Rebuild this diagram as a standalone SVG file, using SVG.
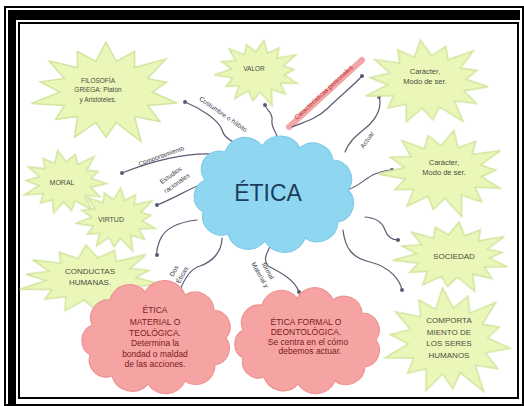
<svg xmlns="http://www.w3.org/2000/svg" width="524" height="406" viewBox="0 0 524 406">
<style>
.star{fill:#eaf7b9;stroke:#d3e6a0;stroke-width:1.6}
.pink{fill:#f6a3a3;stroke:#ec9393;stroke-width:1.2}
.blue{fill:#8fd7f1;stroke:#80cbe8;stroke-width:1.2}
.st{font-family:"Liberation Sans",Arial,sans-serif;fill:#4d4d3d;text-anchor:middle}
.pt{font-family:"Liberation Sans",Arial,sans-serif;fill:#7a2020;text-anchor:middle;font-size:8.5px}
.lbl{font-family:"Liberation Sans",Arial,sans-serif;fill:#3a3a4a;font-size:6.5px;text-anchor:middle}
.con{fill:none;stroke:#5c5a72;stroke-width:1.2;stroke-linecap:round}
.dot{fill:#5c5a72}
</style>
<defs>
<path id="star" vector-effect="non-scaling-stroke" d="M0,-100 L14,-61 L39,-81 L39,-49 L82,-66 L57,-27 L83,-19 L63,0 L97,22 L57,27 L74,59 L39,49 L48,99 L14,61 L0,90 L-14,61 L-43,90 L-39,49 L-69,55 L-57,27 L-102,23 L-63,0 L-90,-20 L-57,-27 L-78,-62 L-39,-49 L-39,-81 L-14,-61 Z"/>
<filter id="soft" x="-10%" y="-10%" width="120%" height="120%"><feGaussianBlur stdDeviation="0.5"/></filter>
</defs>
<rect x="0" y="0" width="524" height="406" fill="#fff"/>
<g id="frame">
<rect x="5" y="7" width="518" height="398" fill="none" stroke="#000" stroke-width="2"/>
<rect x="8" y="10" width="512" height="10" fill="#000"/>
<rect x="8" y="10" width="8" height="396" fill="#000"/>
<rect x="19" y="23" width="499" height="375" fill="none" stroke="#000" stroke-width="2"/>
</g>
<g id="connectors">
<path class="con" d="M247,147 C232,143 224,138 222,130 C219,120 200,108 185,102"/>
<circle class="dot" cx="185" cy="102" r="2"/>
<path class="con" d="M278,150 C282,135 270,130 272,120 C273,112 266,110 265,105"/>
<circle class="dot" cx="265" cy="105" r="2"/>
<line x1="289" y1="127" x2="362" y2="60" stroke="#f2a6a6" stroke-width="6" stroke-linecap="round"/>
<path class="con" d="M292,127 C305,122 318,118 328,108 S355,84 362,76"/>
<circle class="dot" cx="362" cy="76" r="2"/>
<path class="con" d="M345,152 C350,138 362,132 370,124 C378,116 382,105 379,97"/>
<circle class="dot" cx="379" cy="97" r="2"/>
<path class="con" d="M347,190 C360,186 365,178 375,174 S388,170 392,170" stroke="#6a5488"/>
<circle class="dot" cx="392" cy="170" r="2"/>
<path class="con" d="M365,217 C378,218 383,224 385,230 C388,238 393,240 398,240"/>
<circle class="dot" cx="398" cy="240" r="2"/>
<path class="con" d="M343,230 C345,248 352,258 370,262 C390,267 400,280 402,290"/>
<circle class="dot" cx="402" cy="290" r="2"/>
<path class="con" d="M213,154 C190,153 160,158 122,173" stroke="#6a5488"/>
<circle class="dot" cx="122" cy="173" r="2"/>
<path class="con" d="M205,183 C190,188 175,198 157,205"/>
<circle class="dot" cx="157" cy="205" r="2"/>
<path class="con" d="M197,220 C180,222 165,227 160,240 S157,252 157,255"/>
<circle class="dot" cx="157" cy="255" r="2"/>
<path class="con" d="M222,238 C222,252 212,262 200,266 C192,268 186,275 180,290"/>
<circle class="dot" cx="180" cy="290" r="2"/>
<path class="con" d="M272,242 C268,252 262,258 268,266 C280,272 295,280 299,292"/>
<circle class="dot" cx="299" cy="292" r="2"/>
<text class="lbl" transform="translate(222,116) rotate(35)">Costumbre o hábito</text>
<text class="lbl" transform="translate(325,94) rotate(-42.5)" style="fill:#c0282a">Características personales</text>
<text class="lbl" transform="translate(369,141) rotate(-55)">Actuar</text>
<text class="lbl" transform="translate(162,158) rotate(-20)">Comportamiento</text>
<text class="lbl" transform="translate(172,177) rotate(-35)">Estudios</text>
<text class="lbl" transform="translate(178,185) rotate(-35)">racionales</text>
<text class="lbl" transform="translate(176,272) rotate(-62)">Dos</text>
<text class="lbl" transform="translate(184,276) rotate(-62)">Éticas</text>
<text class="lbl" transform="translate(258,276) rotate(60)">Material y</text>
<text class="lbl" transform="translate(266,272) rotate(60)">formal</text>
</g>
<g id="etica">
<path class="blue" d="M205,180 A18,18 0 0 1 225,152 A21,21 0 0 1 262,146 A22,22 0 0 1 300,148 A20,20 0 0 1 333,160 A19,19 0 0 1 348,190 A19,19 0 0 1 338,222 A21,21 0 0 1 305,238 A22,22 0 0 1 265,241 A21,21 0 0 1 228,234 A19,19 0 0 1 203,212 A18,18 0 0 1 205,180 Z"/>
<text x="268" y="201" font-family="Liberation Sans,Arial,sans-serif" font-size="23" fill="#1d3d5c" text-anchor="middle">ÉTICA</text>
</g>
<g id="filosofia">
<use href="#star" class="star" filter="url(#soft)" transform="translate(106,92) scale(0.73,0.5)"/>
<text class="st" font-size="6.5" x="98" y="83">FILOSOFÍA</text>
<text class="st" font-size="6.5" x="98" y="92">GRIEGA: Platón</text>
<text class="st" font-size="6.5" x="98" y="102">y Aristóteles.</text>
</g>
<g id="valor">
<use href="#star" class="star" filter="url(#soft)" transform="translate(258,72) scale(0.42,0.32) rotate(8)"/>
<text class="st" font-size="6.5" x="254" y="71">VALOR</text>
</g>
<g id="caracter1">
<use href="#star" class="star" filter="url(#soft)" transform="translate(427,82) scale(0.62,0.42) rotate(-6)"/>
<text class="st" font-size="7.5" x="425" y="74">Carácter,</text>
<text class="st" font-size="7.5" x="425" y="84">Modo de ser.</text>
</g>
<g id="caracter2">
<use href="#star" class="star" filter="url(#soft)" transform="translate(443,172) scale(0.62,0.42) rotate(10)"/>
<text class="st" font-size="7.5" x="444" y="165">Carácter,</text>
<text class="st" font-size="7.5" x="444" y="175">Modo de ser.</text>
</g>
<g id="moral">
<use href="#star" class="star" filter="url(#soft)" transform="translate(65,182) scale(0.42,0.32) rotate(-10)"/>
<text class="st" font-size="7" x="62" y="185">MORAL</text>
</g>
<g id="virtud">
<use href="#star" class="star" filter="url(#soft)" transform="translate(117,219) scale(0.4,0.31) rotate(5)"/>
<text class="st" font-size="7" x="111" y="222">VIRTUD</text>
</g>
<g id="conductas">
<use href="#star" class="star" filter="url(#soft)" transform="translate(91,279) scale(0.71,0.34) rotate(-4)"/>
<text class="st" font-size="8" x="90" y="274">CONDUCTAS</text>
<text class="st" font-size="8" x="90" y="285">HUMANAS.</text>
</g>
<g id="sociedad">
<use href="#star" class="star" filter="url(#soft)" transform="translate(453,256) scale(0.58,0.34) rotate(6)"/>
<text class="st" font-size="8" x="454" y="259">SOCIEDAD</text>
</g>
<g id="comportamiento">
<use href="#star" class="star" filter="url(#soft)" transform="translate(448,341) scale(0.63,0.53) rotate(-5)"/>
<text class="st" font-size="8" x="449" y="323">COMPORTA</text>
<text class="st" font-size="8" x="449" y="335">MIENTO DE</text>
<text class="st" font-size="8" x="449" y="346">LOS SERES</text>
<text class="st" font-size="8" x="449" y="358">HUMANOS</text>
</g>
<g id="material">
<path class="pink" d="M92,325 A18,18 0 0 1 110,300 A20,20 0 0 1 145,292 A22,22 0 0 1 185,295 A19,19 0 0 1 214,310 A17,17 0 0 1 226,338 A17,17 0 0 1 215,365 A19,19 0 0 1 185,381 A21,21 0 0 1 148,384 A21,21 0 0 1 112,376 A17,17 0 0 1 90,355 A17,17 0 0 1 92,325 Z"/>
<text class="pt" x="155" y="313">ÉTICA</text>
<text class="pt" x="155" y="325">MATERIAL O</text>
<text class="pt" x="155" y="336">TEOLÓGICA.</text>
<text class="pt" x="155" y="346">Determina la</text>
<text class="pt" x="155" y="357">bondad o maldad</text>
<text class="pt" x="155" y="367">de las acciones.</text>
</g>
<g id="formal">
<path class="pink" d="M243,330 A18,18 0 0 1 262,305 A20,20 0 0 1 297,298 A20,20 0 0 1 333,300 A18,18 0 0 1 362,313 A17,17 0 0 1 376,340 A17,17 0 0 1 365,367 A19,19 0 0 1 335,381 A21,21 0 0 1 298,384 A20,20 0 0 1 264,377 A16,16 0 0 1 243,358 A16,16 0 0 1 243,330 Z"/>
<text class="pt" x="306" y="325">ÉTICA FORMAL O</text>
<text class="pt" x="306" y="335">DEONTOLÓGICA.</text>
<text class="pt" x="308" y="345">Se centra en el cómo</text>
<text class="pt" x="310" y="354">debemos actuar.</text>
</g>
</svg>
